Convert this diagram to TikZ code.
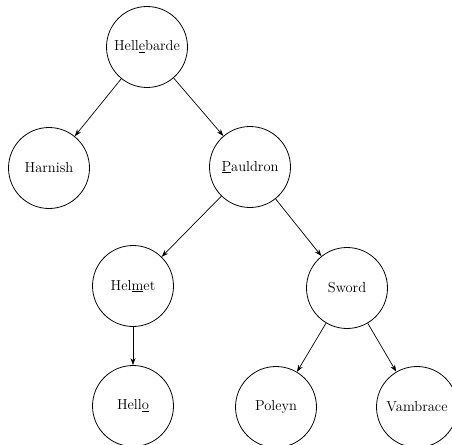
\documentclass[tikz,border=0pt]{standalone}
\usetikzlibrary{arrows.meta}
\begin{document}
\begin{tikzpicture}[x=1pt,y=-1pt,
  treenode/.style={draw,circle,minimum size=81pt,inner sep=0pt,line width=0.8pt,
    font=\fontsize{14.5}{17}\selectfont},
  link/.style={-{Stealth[length=7pt,width=5pt]},line width=0.7pt}]
  \useasboundingbox (0,0) rectangle (452,444);
  \clip (0,0) rectangle (452,444);
  \node[treenode] (helle) at (147,47) {Hell\underline{e}barde};
  \node[treenode] (harn)  at (49,168) {Harnish};
  \node[treenode] (paul)  at (250,167) {\underline{P}auldron};
  \node[treenode] (helm)  at (133,286) {Hel\underline{m}et};
  \node[treenode] (sword) at (347,288) {Sword};
  \node[treenode] (hello) at (133,406) {Hell\underline{o}};
  \node[treenode] (pol)   at (276,407) {Poleyn};
  \node[treenode] (vamb)  at (417,407) {Vambrace};
  \draw[link] (helle) -- (harn);
  \draw[link] (helle) -- (paul);
  \draw[link] (paul) -- (helm);
  \draw[link] (paul) -- (sword);
  \draw[link] (helm) -- (hello);
  \draw[link] (sword) -- (pol);
  \draw[link] (sword) -- (vamb);
\end{tikzpicture}
\end{document}
